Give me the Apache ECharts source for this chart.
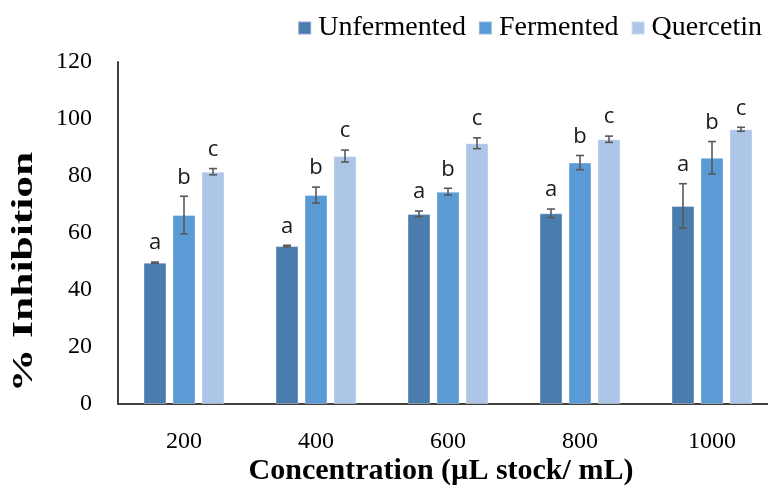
<!DOCTYPE html>
<html>
<head>
<meta charset="utf-8">
<script src="https://cdn.jsdelivr.net/npm/echarts@6/dist/echarts.min.js"></script>
<style>html,body{margin:0;padding:0;background:#fff;overflow:hidden}#c{width:778px;height:489px}</style>
</head>
<body>
<div id="c"></div>
<script>
const categories = ['200', '400', '600', '800', '1000'];
const seriesNames = ['Unfermented', 'Fermented', 'Quercetin'];
const unfermented = [49.6, 55.4, 66.7, 66.9, 69.5];
const fermented = [66.3, 73.3, 74.5, 84.7, 86.4];
const quercetin = [81.5, 87.0, 91.5, 92.9, 96.4];
const unfermentedErr = [0.2, 0.3, 1.0, 1.5, 7.8];
const fermentedErr = [6.6, 2.8, 1.2, 2.5, 5.7];
const quercetinErr = [1.1, 2.1, 1.9, 1.1, 0.7];
const letters = ['a', 'b', 'c'];
const yTicks = [0, 20, 40, 60, 80, 100, 120];

const values = [unfermented, fermented, quercetin];
const errs = [unfermentedErr, fermentedErr, quercetinErr];
const colors = ['#4a7dae', '#5b9bd5', '#adc6e7'];
const BAR_W = 23, BAR_GAP = 6;

const chart = echarts.init(document.getElementById('c'));
const series = [];
values.forEach((v, s) => {
  series.push({
    name: seriesNames[s], type: 'bar', data: v,
    barWidth: BAR_W, barGap: (BAR_GAP / BAR_W * 100) + '%',
    itemStyle: { color: colors[s], borderColor: 'rgba(255,255,255,0.35)', borderWidth: 1 },
    emphasis: { disabled: true }, z: 2
  });
});
values.forEach((v, s) => {
  series.push({
    type: 'custom', z: 5, silent: true,
    data: v.map((val, i) => [i, val, errs[s][i]]),
    renderItem: function (params, api) {
      const i = api.value(0), val = api.value(1), e = api.value(2);
      const off = (s - 1) * (BAR_W + BAR_GAP);
      const top = api.coord([i, val + e]);
      const bot = api.coord([i, val - e]);
      const x = top[0] + off;
      const cap = 4;
      const st = { stroke: '#595959', lineWidth: 1.6 };
      return {
        type: 'group',
        children: [
          { type: 'line', shape: { x1: x, y1: top[1], x2: x, y2: bot[1] }, style: st },
          { type: 'line', shape: { x1: x - cap, y1: top[1], x2: x + cap, y2: top[1] }, style: st },
          { type: 'line', shape: { x1: x - cap, y1: bot[1], x2: x + cap, y2: bot[1] }, style: st },
          { type: 'text', x: x, y: top[1] - 8,
            style: { text: letters[s], fill: '#1a1a1a', font: '22px "Open Sans"', align: 'center', verticalAlign: 'bottom' } }
        ]
      };
    }
  });
});

chart.setOption({
  animation: false,
  backgroundColor: '#fff',
  color: colors,
  grid: { left: 118, right: 0, top: 62, bottom: 85, containLabel: false },
  legend: {
    data: seriesNames, right: 11, top: 9,
    icon: 'rect', itemWidth: 13, itemHeight: 13, itemGap: 12,
    textStyle: { fontFamily: 'Liberation Serif', fontSize: 28, color: '#000', padding: [0, 0, 0, 2] }
  },
  xAxis: {
    type: 'category', data: categories,
    axisLine: { lineStyle: { color: '#404040', width: 2 } },
    axisTick: { show: false },
    axisLabel: { fontFamily: 'Liberation Serif', fontSize: 24, color: '#000', margin: 26 }
  },
  yAxis: {
    type: 'value', min: 0, max: 120, interval: 20,
    axisLine: { show: true, lineStyle: { color: '#404040', width: 2 } },
    axisTick: { show: false },
    splitLine: { show: false },
    axisLabel: { fontFamily: 'Liberation Serif', fontSize: 24, color: '#000', margin: 26,
      formatter: v => yTicks.includes(v) ? String(v) : '' }
  },
  graphic: [
    { type: 'text', x: 24, y: 272, rotation: Math.PI / 2, scaleX: 1.45,
      style: { text: '% Inhibition', font: 'bold 30px "Liberation Serif"', fill: '#000', align: 'center', verticalAlign: 'middle' } },
    { type: 'text', x: 441, y: 471,
      style: { text: 'Concentration (µL stock/ mL)', font: 'bold 30px "Liberation Serif"', fill: '#000', align: 'center', verticalAlign: 'middle' } }
  ],
  series: series
});
</script>
</body>
</html>
